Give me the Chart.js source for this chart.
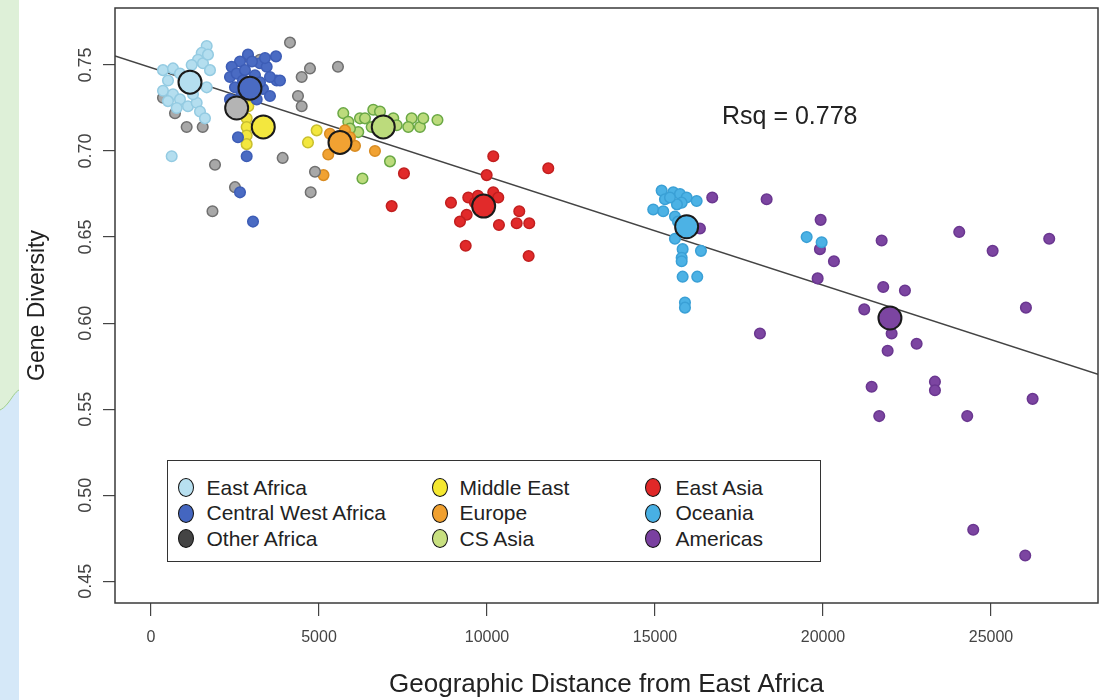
<!DOCTYPE html>
<html><head><meta charset="utf-8">
<script src="https://cdn.jsdelivr.net/npm/chart.js@4.4.1/dist/chart.umd.min.js"></script>
<style>
html,body{margin:0;padding:0;background:#fff;}
#wrap{position:relative;width:1107px;height:700px;overflow:hidden;font-family:"Liberation Sans",Arial,sans-serif;}
#strip{position:absolute;left:0;top:0;}
#c{position:absolute;left:0;top:0;}
#legend{position:absolute;left:167px;top:460px;width:652px;height:100px;border:1.5px solid #333;background:#fff;}
.li{position:absolute;font-size:21px;color:#222;line-height:24px;white-space:nowrap;}
.mk{position:absolute;width:16px;height:19px;border-radius:50%;border:1.5px solid #111;box-sizing:border-box;}
#rsq{position:absolute;left:722px;top:100px;font-size:25px;line-height:30px;color:#222;white-space:nowrap;}
</style></head>
<body><div id="wrap">
<svg id="strip" width="20" height="700">
  <rect x="0" y="0" width="19" height="700" fill="#d5e8f8"/>
  <path d="M0,0 H19 V390 C15,392 12,398 8,403 C5,407 2,409 0,410 Z" fill="#def0d8"/>
  <path d="M19,390 C15,392 12,398 8,403 C5,407 2,409 0,410" fill="none" stroke="#9fcf8a" stroke-width="1"/>
</svg>
<canvas id="c" width="1107" height="700"></canvas>
<div id="legend"></div>
<div id="rsq">Rsq = 0.778</div>
</div>
<script>
// ---- data ----
const regions = ['East Africa','Central West Africa','Other Africa','Middle East','Europe','CS Asia','East Asia','Oceania','Americas'];

const eastAfricaX = [1658,1509,1399,1211,1548,357,655,863,506,1658,357,655,863,1101,1360,506,1458,1607,765,616,1012,1250,1756,1696];
const eastAfricaY = [0.761,0.757,0.753,0.750,0.751,0.747,0.748,0.745,0.741,0.737,0.735,0.733,0.730,0.726,0.728,0.729,0.723,0.719,0.725,0.697,0.741,0.733,0.747,0.756];

const centralWestAfricaX = [2887,2649,2402,2351,2550,3244,3443,3720,3741,3541,3333,3541,3146,2351,2649,2500,2589,2848,2649,3036,2797,3095,3244,2738,3393,3006,3839];
const centralWestAfricaY = [0.756,0.752,0.749,0.743,0.745,0.751,0.749,0.755,0.741,0.743,0.736,0.732,0.730,0.730,0.731,0.737,0.708,0.697,0.676,0.659,0.747,0.744,0.740,0.741,0.754,0.752,0.741];

const otherAfricaX = [4137,2887,3244,4732,4485,5565,4375,4485,357,714,1062,1539,1905,2500,1830,3919,4881,4753];
const otherAfricaY = [0.763,0.755,0.753,0.748,0.743,0.749,0.732,0.726,0.731,0.722,0.714,0.714,0.692,0.679,0.665,0.696,0.688,0.676];

const middleEastX = [2896,2848,2848,2848,2848,4931,4672];
const middleEastY = [0.726,0.719,0.714,0.709,0.704,0.712,0.705];

const europeX = [5327,6071,5276,6666,5134,5773,5922];
const europeY = [0.710,0.703,0.698,0.700,0.686,0.712,0.708];

const csAsiaX = [5723,5872,6220,6616,6169,5922,6568,7211,7312,7758,7657,8005,8104,8526,7113,6294,6369,6815];
const csAsiaY = [0.722,0.717,0.719,0.724,0.711,0.713,0.714,0.719,0.715,0.719,0.714,0.714,0.719,0.718,0.694,0.684,0.719,0.723];

const eastAsiaX = [10187,11824,7529,9990,10187,10336,9443,8928,9395,9196,10961,10883,11258,10356,7163,9366,11240,9642,9731];
const eastAsiaY = [0.697,0.690,0.687,0.686,0.676,0.673,0.673,0.670,0.663,0.659,0.665,0.658,0.658,0.657,0.668,0.645,0.639,0.670,0.674];

const oceaniaX = [15198,15544,15743,15942,15297,15794,16240,14948,15246,15594,15594,15823,16368,15794,15794,15823,16258,15892,15892,19514,19960,15654,15446,15684];
const oceaniaY = [0.677,0.676,0.675,0.673,0.672,0.670,0.671,0.666,0.665,0.662,0.649,0.643,0.642,0.638,0.636,0.627,0.627,0.612,0.609,0.650,0.647,0.669,0.673,0.659];

const americasX = [16704,16338,18323,19930,19909,20326,19841,21746,24055,25049,26733,21793,22439,21228,22043,22787,21924,26040,18124,21448,23332,23332,26239,21674,24293,24472,26019];
const americasY = [0.673,0.655,0.672,0.660,0.643,0.636,0.626,0.648,0.653,0.642,0.649,0.621,0.619,0.608,0.594,0.588,0.584,0.609,0.594,0.563,0.566,0.561,0.556,0.546,0.546,0.480,0.465];

const meanX = [1161,2946,2550,3342,5625,6913,9901,15942,21993];
const meanY = [0.740,0.7365,0.725,0.714,0.705,0.714,0.668,0.656,0.603];

const fitLineX = [-1071, 28185];
const fitLineY = [0.7552, 0.5703];

const xTicks = [0,5000,10000,15000,20000,25000];
const xTickLabels = ['0','5000','10000','15000','20000','25000'];
const yTicks = [0.45,0.50,0.55,0.60,0.65,0.70,0.75];
const yTickLabels = ['0.45','0.50','0.55','0.60','0.65','0.70','0.75'];

// ---- styles ----
const pointFill   = ['#b4deef','#4a6bc3','#a8a8a8','#f3e73e','#f1a232','#bcdb7c','#e12a2a','#4cb2e5','#7c45a1'];
const pointBorder = ['#94cbe2','#3d5db6','#707070','#c9bf2e','#d98c22','#6aa845','#c21f1f','#3aa0d6','#6a3790'];
const meanFill    = ['#b4deef','#4a6bc3','#b4b4b4','#f3e73e','#f1a232','#bcdb7c','#e12a2a','#4cb2e5','#7c45a1'];
const legendFill  = ['#b8e0f0','#4466c0','#444444','#f5e830','#f0a030','#c8e080','#e02828','#48b0e4','#7a40a0'];

const FAM = '"Liberation Sans", Arial, Helvetica, sans-serif';
const groupsX = [eastAfricaX,centralWestAfricaX,otherAfricaX,middleEastX,europeX,csAsiaX,eastAsiaX,oceaniaX,americasX];
const groupsY = [eastAfricaY,centralWestAfricaY,otherAfricaY,middleEastY,europeY,csAsiaY,eastAsiaY,oceaniaY,americasY];
const toPts = (xs, ys) => xs.map((x,i)=>({x:x, y:ys[i]}));

const datasets = [];
datasets.push({
  type:'scatter', label:'means', data: toPts(meanX, meanY),
  backgroundColor: meanFill, borderColor:'#1a1a1a', borderWidth:2, pointRadius:11.5, order:1
});
regions.forEach((r,i)=>{
  datasets.push({
    type:'scatter', label:r, data: toPts(groupsX[i], groupsY[i]),
    backgroundColor: pointFill[i], borderColor: pointBorder[i], borderWidth:1.5, pointRadius:5.3, order:50
  });
});
datasets.push({
  type:'line', label:'fit', data: toPts(fitLineX, fitLineY),
  borderColor:'#444', borderWidth:1.5, pointRadius:0, fill:false, order:100
});

const boxPlugin = {
  id:'boxPlugin',
  afterDraw(chart){
    const {ctx, chartArea:a, scales} = chart;
    ctx.save();
    ctx.strokeStyle='#3a3a3a'; ctx.lineWidth=1.5;
    ctx.strokeRect(a.left, a.top, a.right-a.left, a.bottom-a.top);
    ctx.fillStyle='#444';
    ctx.font='18px ' + FAM;
    ctx.textAlign='center'; ctx.textBaseline='middle';
    yTicks.forEach((v,i)=>{
      const py = scales.y.getPixelForValue(v);
      ctx.save(); ctx.translate(86, py); ctx.rotate(-Math.PI/2);
      ctx.fillText(yTickLabels[i], 0, 0);
      ctx.restore();
    });
    ctx.restore();
  }
};

new Chart(document.getElementById('c'), {
  data:{datasets},
  options:{
    responsive:false, animation:false, devicePixelRatio:1, events:[],
    layout:{autoPadding:false, padding:{top:8,right:9,left:0,bottom:0}},
    plugins:{legend:{display:false}, tooltip:{enabled:false}},
    scales:{
      x:{type:'linear', position:'bottom', min:-1071, max:28185,
        afterBuildTicks:s=>{ s.ticks = xTicks.map(v=>({value:v})); },
        afterFit:s=>{ s.height = 97; },
        grid:{drawOnChartArea:false, drawTicks:true, tickLength:13, color:'#444', lineWidth:1.2},
        border:{display:false},
        ticks:{font:{size:16, family:FAM}, color:'#444', padding:12, maxRotation:0, autoSkip:false,
          callback:(v,i)=>xTickLabels[i]},
        title:{display:true, text:'Geographic Distance from East Africa', font:{size:26, family:FAM}, color:'#222', padding:{top:0,bottom:0}}
      },
      y:{type:'linear', position:'left', min:0.4374, max:0.7831,
        afterBuildTicks:s=>{ s.ticks = yTicks.map(v=>({value:v})); },
        afterFit:s=>{ s.width = 115; },
        grid:{drawOnChartArea:false, drawTicks:true, tickLength:12, color:'#444', lineWidth:1.2},
        border:{display:false},
        ticks:{callback:()=>'', padding:0, autoSkip:false, font:{size:1}},
        title:{display:true, text:'Gene Diversity', font:{size:23, family:FAM}, color:'#222', padding:{top:24,bottom:0}}
      }
    }
  },
  plugins:[boxPlugin]
});

// ---- legend ----
const lg = document.getElementById('legend');
const colMk = [9.5, 263.5, 476.5];
const colTx = [38.5, 291.5, 507.5];
const rowY = [0, 25.5, 51];
regions.forEach((r,i)=>{
  const col = Math.floor(i/3), row = i%3;
  const mk = document.createElement('div');
  mk.className='mk'; mk.style.background = legendFill[i];
  mk.style.left = colMk[col]+'px'; mk.style.top = (17+rowY[row])+'px';
  lg.appendChild(mk);
  const t = document.createElement('div');
  t.className='li'; t.textContent = r;
  t.style.left = colTx[col]+'px'; t.style.top = (14.5+rowY[row])+'px';
  lg.appendChild(t);
});
</script>
</body></html>
